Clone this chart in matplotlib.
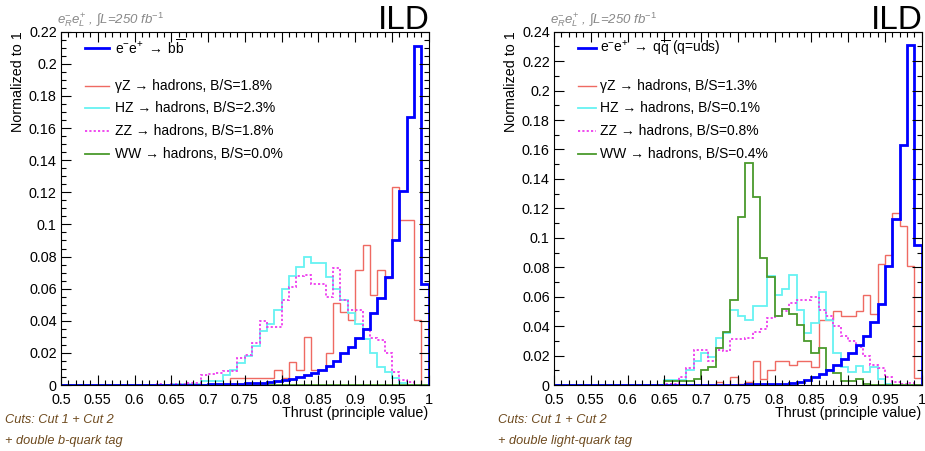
import numpy as np
import matplotlib
matplotlib.use('Agg')
import matplotlib.pyplot as plt
from matplotlib.ticker import MultipleLocator, FuncFormatter

plt.rcParams['font.family'] = ['Liberation Sans', 'DejaVu Sans']
plt.rcParams['mathtext.fontset'] = 'custom'
plt.rcParams['mathtext.rm'] = 'Liberation Sans'
plt.rcParams['mathtext.it'] = 'Liberation Sans:italic'
plt.rcParams['mathtext.bf'] = 'Liberation Sans:bold'

# thrust bins, 0.01 wide from 0.5 to 1.0
edges = np.round(np.linspace(0.5, 1.0, 51), 2)

# ---- left panel: b-quark tag (values per bin, 0.50 ... 0.99)
bb_signal = [0, 0, 0, 0, 0, 0, 0, 0, 0, 0, 0, 0, 0, 0, 0,
             0.0003, 0.0003, 0.0003, 0.0003, 0.0003, 0.0004, 0.0004, 0.0005, 0.0006, 0.0008,
             0.001, 0.0012, 0.0015, 0.002, 0.0025, 0.003, 0.004, 0.005, 0.006, 0.0073,
             0.0093, 0.0118, 0.0151, 0.0197, 0.0238, 0.029, 0.035, 0.0447, 0.054, 0.0675,
             0.090, 0.121, 0.167, 0.211, 0.063]
bb_gz = [0, 0, 0, 0, 0, 0, 0, 0, 0, 0, 0, 0, 0, 0, 0,
         0, 0, 0, 0, 0, 0, 0, 0, 0.0045, 0.0045,
         0.0045, 0.0045, 0.0045, 0.0045, 0.0093, 0.0045, 0.0145, 0.0093, 0.030, 0.0093,
         0.0093, 0.0197, 0.051, 0.0457, 0.0405, 0.0717, 0.087, 0.056, 0.0717, 0.0665,
         0.123, 0.1028, 0.1028, 0.0405, 0]
bb_hz = [0, 0, 0, 0, 0, 0, 0, 0, 0, 0, 0, 0, 0, 0, 0,
         0.0005, 0.0005, 0.0005, 0.0005, 0.0025, 0.0025, 0.0025, 0.0065, 0.0093, 0.014,
         0.018, 0.0244, 0.0337, 0.038, 0.047, 0.060, 0.068, 0.0733, 0.080, 0.0762,
         0.0762, 0.0675, 0.060, 0.053, 0.045, 0.038, 0.0287, 0.0197, 0.0114, 0.008,
         0.0045, 0.001, 0, 0, 0]
bb_zz = [0, 0, 0, 0, 0, 0, 0, 0, 0, 0, 0, 0, 0, 0.0007, 0,
         0.0007, 0.0007, 0.001, 0.001, 0.006, 0.007, 0.0075, 0.009, 0.009, 0.0166,
         0.019, 0.026, 0.040, 0.036, 0.036, 0.053, 0.061, 0.068, 0.0685, 0.063,
         0.063, 0.055, 0.073, 0.053, 0.047, 0.047, 0.035, 0.029, 0.028, 0.0197,
         0.008, 0.003, 0.0017, 0, 0]
bb_ww = [0] * 50

# ---- right panel: light-quark tag
qq_signal = [0, 0, 0, 0, 0, 0, 0, 0, 0, 0, 0, 0, 0, 0, 0,
             0.0002, 0.0002, 0.0002, 0.0002, 0.0002, 0.0002, 0.0002, 0.0002, 0.0002, 0.0003,
             0.0003, 0.0004, 0.0005, 0.0005, 0.0006, 0.0006, 0.0008, 0.0012, 0.0023, 0.0034,
             0.0057, 0.0075, 0.0102, 0.0137, 0.0175, 0.0215, 0.027, 0.033, 0.043, 0.055,
             0.081, 0.113, 0.163, 0.231, 0.095]
qq_gz = [0, 0, 0, 0, 0, 0, 0, 0, 0, 0, 0, 0, 0, 0, 0,
         0, 0, 0, 0, 0, 0, 0, 0.002, 0, 0.0057,
         0.001, 0.002, 0.0166, 0.004, 0.0102, 0.0166, 0.0166, 0.0137, 0.0166, 0.0164,
         0.0125, 0.044, 0.044, 0.050, 0.047, 0.047, 0.050, 0.061, 0.048, 0.082,
         0.088, 0.117, 0.108, 0.081, 0.005]
qq_hz = [0, 0, 0, 0, 0, 0, 0, 0, 0, 0, 0, 0, 0, 0, 0,
         0.0035, 0.0035, 0.0035, 0.0102, 0.0166, 0.022, 0.019, 0.032, 0.035, 0.051,
         0.047, 0.044, 0.054, 0.054, 0.074, 0.061, 0.065, 0.075, 0.051, 0.035,
         0.042, 0.063, 0.044, 0.022, 0.0125, 0.009, 0.013, 0.009, 0.012, 0.004,
         0.001, 0, 0, 0, 0]
qq_zz = [0, 0, 0, 0, 0, 0, 0, 0, 0, 0, 0, 0, 0, 0, 0,
         0.0005, 0.001, 0.0057, 0.0114, 0.024, 0.024, 0.016, 0.024, 0.023, 0.031,
         0.031, 0.032, 0.036, 0.038, 0.0455, 0.0466, 0.050, 0.0557, 0.058, 0.058,
         0.060, 0.051, 0.047, 0.040, 0.0334, 0.0296, 0.0257, 0.0198, 0.0137, 0.0114,
         0.0057, 0.0023, 0.001, 0.0015, 0]
qq_ww = [0, 0, 0, 0, 0, 0, 0, 0, 0, 0, 0, 0, 0, 0, 0,
         0.003, 0.003, 0.003, 0.003, 0.004, 0.0102, 0.0121, 0.025, 0.0357, 0.0576,
         0.114, 0.151, 0.128, 0.086, 0.0733, 0.047, 0.0517, 0.048, 0.041, 0.030,
         0.022, 0.025, 0.010, 0.008, 0.003, 0.003, 0.004, 0.001, 0, 0,
         0, 0, 0, 0, 0]

bb_labels = [r'$\mathrm{e^{-}e^{+}\;\rightarrow\;b\overline{b}}$',
             '\u03b3Z \u2192 hadrons, B/S=1.8%', 'HZ \u2192 hadrons, B/S=2.3%',
             'ZZ \u2192 hadrons, B/S=1.8%', 'WW \u2192 hadrons, B/S=0.0%']
qq_labels = [r'$\mathrm{e^{-}e^{+}\;\rightarrow\;q\overline{q}}$ (q=uds)',
             '\u03b3Z \u2192 hadrons, B/S=1.3%', 'HZ \u2192 hadrons, B/S=0.1%',
             'ZZ \u2192 hadrons, B/S=0.8%', 'WW \u2192 hadrons, B/S=0.4%']

RED = '#ef6a62'
CYAN = '#66f2f2'
MAG = '#ee3cee'
GREEN = '#4a9a2c'
BLUE = '#0000ff'
styles = [  # signal, gz, hz, zz, ww
    dict(color=BLUE, lw=2.0, ls='-'),
    dict(color=RED, lw=1.0, ls='-'),
    dict(color=CYAN, lw=1.3, ls='-'),
    dict(color=MAG, lw=1.3, ls=(0, (1.2, 1.2))),
    dict(color=GREEN, lw=1.3, ls='-'),
]

fig = plt.figure(figsize=(9.25, 4.51), dpi=100)
fmt = FuncFormatter(lambda v, p: f'{v:g}')


def panel(left, hists, labels, ymax, yminor, leg_line, leg_text, cuts):
    ax = fig.add_axes([left, 0.1463, 0.3975, 0.7834])
    order = [1, 2, 3, 4, 0]
    for i in order:
        st = styles[i]
        ax.stairs(hists[i], edges, color=st['color'], lw=st['lw'], ls=st['ls'])
    ax.set_xlim(0.5, 1.0)
    ax.set_ylim(0, ymax)
    ax.xaxis.set_major_locator(MultipleLocator(0.05))
    ax.xaxis.set_minor_locator(MultipleLocator(0.01))
    ax.yaxis.set_major_locator(MultipleLocator(0.02))
    ax.yaxis.set_minor_locator(MultipleLocator(yminor))
    ax.xaxis.set_major_formatter(fmt)
    ax.yaxis.set_major_formatter(fmt)
    ax.tick_params(which='both', direction='in', top=True, right=True,
                   labelsize=10.4, width=0.8)
    ax.tick_params(which='major', length=7.5)
    ax.tick_params(which='minor', length=3.8)
    ax.tick_params(axis='x', pad=5.5)
    ax.tick_params(axis='y', pad=3)
    for s in ax.spines.values():
        s.set_linewidth(0.8)

    ax.text(1.0, -0.078, 'Thrust (principle value)', transform=ax.transAxes,
            ha='right', va='center', fontsize=10.3)
    ax.text(-0.116, 1.0, 'Normalized to 1', transform=ax.transAxes,
            rotation=90, ha='center', va='top', fontsize=10.3)
    ax.text(1.003, 1.008, 'ILD', transform=ax.transAxes, ha='right',
            va='baseline', fontsize=24)
    ax.text(-0.011, 1.034, '$e^{-}_{R}e^{+}_{L}$ , \u222b$L$=250 fb$^{-1}$',
            transform=ax.transAxes, ha='left', va='center', fontsize=9.5,
            color='#888888', style='italic')

    rows = [0.954, 0.846, 0.784, 0.719, 0.654]
    for i, y in enumerate(rows):
        st = styles[i]
        ax.plot(leg_line, [y, y], transform=ax.transAxes, color=st['color'],
                lw=st['lw'], ls=st['ls'], clip_on=False)
        ax.text(leg_text, y, labels[i], transform=ax.transAxes, ha='left',
                va='center', fontsize=10)

    x0 = left - 0.0605
    fig.text(x0, 1 - 420 / 451, cuts[0], ha='left', va='center',
             fontsize=9.2, style='italic', color='#6e4a1e')
    fig.text(x0, 1 - 441 / 451, cuts[1], ha='left', va='center',
             fontsize=9.2, style='italic', color='#6e4a1e')
    return ax


panel(61 / 925, [bb_signal, bb_gz, bb_hz, bb_zz, bb_ww], bb_labels, 0.22, 0.005,
      [0.065, 0.13], 0.147, ['Cuts: Cut 1 + Cut 2', '+ double b-quark tag'])
panel(554 / 925, [qq_signal, qq_gz, qq_hz, qq_zz, qq_ww], qq_labels, 0.24, 0.01,
      [0.065, 0.115], 0.125, ['Cuts: Cut 1 + Cut 2', '+ double light-quark tag'])

fig.savefig('out.png', dpi=100)
